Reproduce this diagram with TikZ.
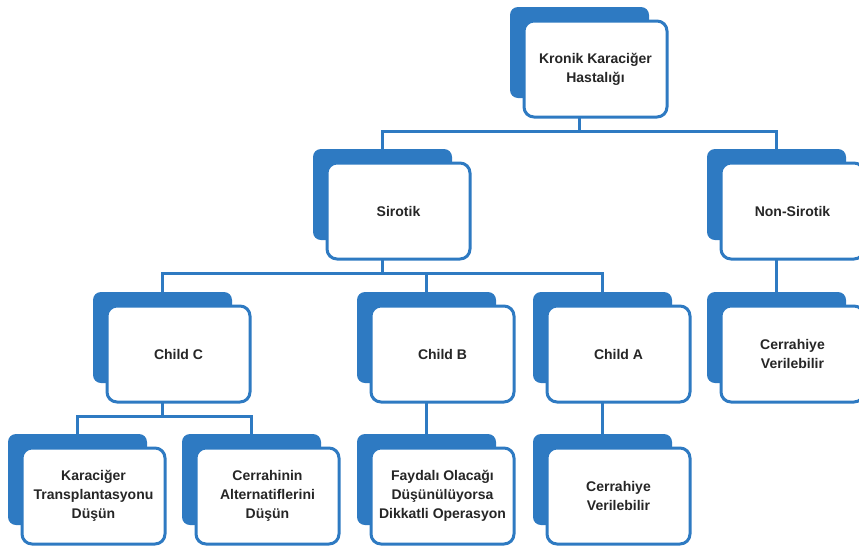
\documentclass[tikz,border=0pt]{standalone}
\usepackage{fontspec}
\setmainfont{Liberation Sans}
\usepackage{xcolor}
\usetikzlibrary{positioning}

\definecolor{boxblue}{RGB}{46,122,194}
\definecolor{textgray}{RGB}{38,38,38}

\begin{document}
\begin{tikzpicture}[
    x=1pt, y=-1pt,
    shadow/.style={
        rectangle,
        rounded corners=8pt,
        fill=boxblue,
        minimum width=139pt,
        minimum height=91pt,
        inner sep=0pt,
        outer sep=0pt,
        anchor=north west
    },
    card/.style={
        rectangle,
        rounded corners=10pt,
        draw=boxblue,
        line width=3pt,
        fill=white,
        minimum width=143pt,
        minimum height=96pt,
        inner sep=0pt,
        outer sep=0pt,
        align=center,
        text=textgray,
        font=\bfseries\fontsize{14}{19}\selectfont
    },
    link/.style={
        draw=boxblue,
        line width=3pt
    }
]
\useasboundingbox (0,0) rectangle (859,547);
\clip (0,0) rectangle (859,547);

% level 1
\node[shadow] (kkh-b) at (510,7) {};
\node[card, below right=14pt and 14pt of kkh-b.north west] (kkh)
{Kronik Karaciğer\\Hastalığı};

% level 2
\node[shadow] (sir-b) at (313,149) {};
\node[card, below right=14pt and 14pt of sir-b.north west] (sir) {Sirotik};

\node[shadow] (non-b) at (707,149) {};
\node[card, below right=14pt and 14pt of non-b.north west] (non) {Non-Sirotik};

% level 3
\node[shadow] (chc-b) at (93,292) {};
\node[card, below right=14pt and 14pt of chc-b.north west] (chc) {Child C};

\node[shadow] (chb-b) at (357,292) {};
\node[card, below right=14pt and 14pt of chb-b.north west] (chb) {Child B};

\node[shadow] (cha-b) at (533,292) {};
\node[card, below right=14pt and 14pt of cha-b.north west] (cha) {Child A};

\node[shadow] (cer1-b) at (707,292) {};
\node[card, below right=14pt and 14pt of cer1-b.north west] (cer1)
{Cerrahiye\\Verilebilir};

% level 4
\node[shadow] (ktd-b) at (8,434) {};
\node[card, below right=14pt and 14pt of ktd-b.north west] (ktd)
{Karaciğer\\Transplantasyonu\\Düşün};

\node[shadow] (cad-b) at (182,434) {};
\node[card, below right=14pt and 14pt of cad-b.north west] (cad)
{Cerrahinin\\Alternatiflerini\\Düşün};

\node[shadow] (fod-b) at (357,434) {};
\node[card, below right=14pt and 14pt of fod-b.north west] (fod)
{Faydalı Olacağı\\Düşünülüyorsa\\Dikkatli Operasyon};

\node[shadow] (cer2-b) at (533,434) {};
\node[card, below right=14pt and 14pt of cer2-b.north west] (cer2)
{Cerrahiye\\Verilebilir};

% connectors
\draw[link] (kkh-b |- kkh.south) -- ++(0,14) -| (sir-b.north);
\draw[link] (kkh-b |- kkh.south) -- ++(0,14) -| (non-b.north);

\draw[link] (sir-b |- sir.south) -- ++(0,14) -| (chc-b.north);
\draw[link] (sir-b |- sir.south) -- ++(0,14) -| (chb-b.north);
\draw[link] (sir-b |- sir.south) -- ++(0,14) -| (cha-b.north);

\draw[link] (non-b |- non.south) -- (cer1-b.north);

\draw[link] (chc-b |- chc.south) -- ++(0,14) -| (ktd-b.north);
\draw[link] (chc-b |- chc.south) -- ++(0,14) -| (cad-b.north);

\draw[link] (chb-b |- chb.south) -- (fod-b.north);
\draw[link] (cha-b |- cha.south) -- (cer2-b.north);

\end{tikzpicture}
\end{document}
